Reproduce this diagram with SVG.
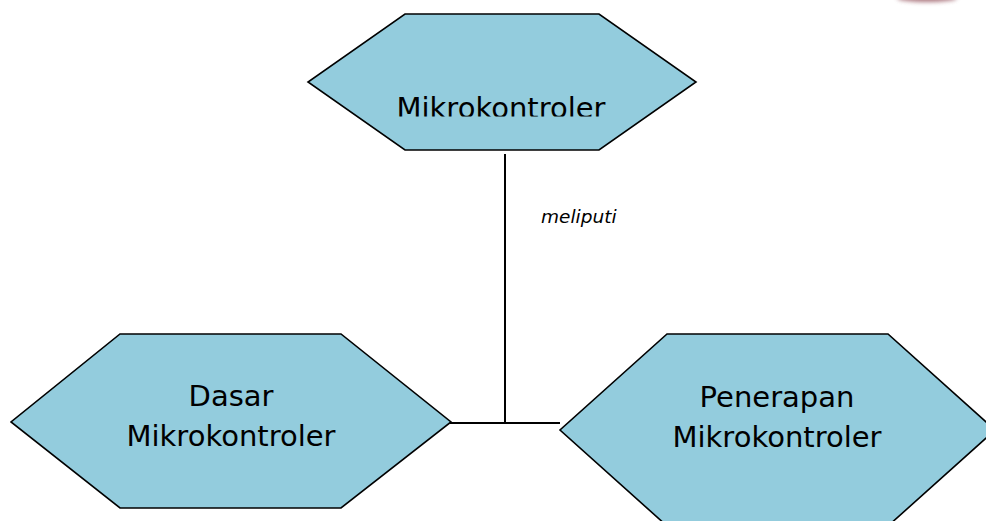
<svg xmlns="http://www.w3.org/2000/svg" width="986" height="521" viewBox="0 0 986 521">
<style>
.hex{fill:#93ccdd;stroke:#000;stroke-width:1.6;stroke-linejoin:miter}
.lbl{font-family:"DejaVu Sans",Verdana,sans-serif;font-size:29px;fill:#000;text-anchor:middle}
.conn{stroke:#000;stroke-width:2;fill:none}
.edge{font-family:"DejaVu Sans",Verdana,sans-serif;font-size:18.5px;font-style:italic;fill:#000}
</style>
<defs>
<clipPath id="topclip"><rect x="0" y="0" width="986" height="116.5"/></clipPath>
<filter id="blur" x="-50%" y="-200%" width="200%" height="500%"><feGaussianBlur stdDeviation="2"/></filter>
</defs>
<rect width="986" height="521" fill="#fff"/>
<ellipse cx="927" cy="-2" rx="30" ry="4" fill="#9a5a64" filter="url(#blur)" opacity="0.8"/>
<g id="connectors">
<line class="conn" x1="505" y1="154" x2="505" y2="423"/>
<line class="conn" x1="450" y1="423" x2="560" y2="423"/>
<text class="edge" x="541" y="223">meliputi</text>
</g>
<g id="node-mikrokontroler">
<polygon class="hex" points="405,14 599,14 696,82 599,150 405,150 308,82"/>
<text class="lbl" x="501" y="118" clip-path="url(#topclip)">Mikrokontroler</text>
</g>
<g id="node-dasar">
<polygon class="hex" points="120,334 341,334 451,422 341,508 120,508 11,422"/>
<text class="lbl" x="231" y="406">Dasar</text>
<text class="lbl" x="231" y="446">Mikrokontroler</text>
</g>
<g id="node-penerapan">
<polygon class="hex" points="667,334 888,334 995,430 888,526 667,526 560,430"/>
<text class="lbl" x="777" y="407">Penerapan</text>
<text class="lbl" x="777" y="447">Mikrokontroler</text>
</g>
</svg>
